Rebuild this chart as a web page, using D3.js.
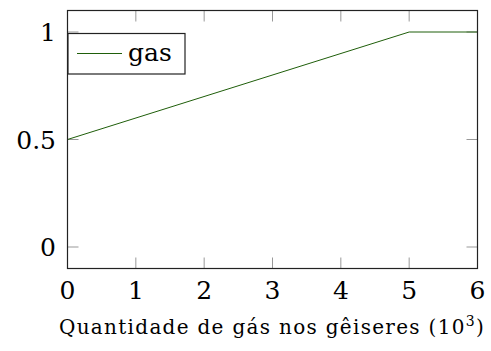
<!DOCTYPE html>
<html>
<head>
<meta charset="utf-8">
<script src="https://cdn.jsdelivr.net/npm/d3@7"></script>
<style>
  body { margin: 0; background: #fff; }
</style>
</head>
<body>
<script>
// data
const xValues = [0, 5, 6];
const gasValues = [0.5, 1, 1];
const xTicks = [0, 1, 2, 3, 4, 5, 6];
const yTicks = [0, 0.5, 1];
const seriesName = "gas";

const width = 491, height = 351;
const plotLeft = 67.5, plotRight = 477.5, plotTop = 10.5, plotBottom = 268.5;

const svg = d3.select("body")
  .append("svg")
  .attr("width", width)
  .attr("height", height)
  .attr("font-family", "'DejaVu Serif', 'Liberation Serif', serif");

const x = d3.scaleLinear().domain([0, 6]).range([plotLeft, plotRight]);
const y = d3.scaleLinear().domain([-0.1, 1.1]).range([plotBottom, plotTop]);

// Ticks (inside, grey)
svg.append("g")
  .selectAll("line")
  .data(xTicks.slice(1, -1))
  .join("line")
  .attr("x1", d => x(d)).attr("x2", d => x(d))
  .attr("y1", plotBottom).attr("y2", plotBottom - 11)
  .attr("stroke", "#999").attr("stroke-width", 1);
svg.append("g")
  .selectAll("line")
  .data(xTicks.slice(1, -1))
  .join("line")
  .attr("x1", d => x(d)).attr("x2", d => x(d))
  .attr("y1", plotTop).attr("y2", plotTop + 11)
  .attr("stroke", "#999").attr("stroke-width", 1);
svg.append("g")
  .selectAll("line")
  .data(yTicks)
  .join("line")
  .attr("x1", plotLeft).attr("x2", plotLeft + 11)
  .attr("y1", d => y(d)).attr("y2", d => y(d))
  .attr("stroke", "#999").attr("stroke-width", 1);
svg.append("g")
  .selectAll("line")
  .data(yTicks)
  .join("line")
  .attr("x1", plotRight).attr("x2", plotRight - 11)
  .attr("y1", d => y(d)).attr("y2", d => y(d))
  .attr("stroke", "#999").attr("stroke-width", 1);

// Line
const line = d3.line()
  .x(d => x(d[0]))
  .y(d => y(d[1]));

svg.append("path")
  .datum(xValues.map((v, i) => [v, gasValues[i]]))
  .attr("d", line)
  .attr("fill", "none")
  .attr("stroke", "#1f5e0a")
  .attr("stroke-width", 1);

// Box
svg.append("rect")
  .attr("x", plotLeft).attr("y", plotTop)
  .attr("width", plotRight - plotLeft).attr("height", plotBottom - plotTop)
  .attr("fill", "none")
  .attr("stroke", "#222").attr("stroke-width", 1.2);

// Tick labels
svg.append("g")
  .selectAll("text")
  .data(xTicks)
  .join("text")
  .attr("x", d => x(d))
  .attr("y", 299)
  .attr("text-anchor", "middle")
  .attr("font-size", 25)
  .text(d => d);

svg.append("g")
  .selectAll("text")
  .data(yTicks)
  .join("text")
  .attr("x", 56)
  .attr("y", d => y(d))
  .attr("dy", "0.36em")
  .attr("text-anchor", "end")
  .attr("font-size", 25)
  .text(d => d);

// Axis label
const label = svg.append("text")
  .attr("x", 272)
  .attr("y", 334)
  .attr("text-anchor", "middle")
  .attr("font-size", 20)
  .attr("letter-spacing", 1.3)
  .text("Quantidade de gás nos gêiseres (10");
label.append("tspan")
  .attr("font-size", 14)
  .attr("dy", -8)
  .text("3");
label.append("tspan")
  .attr("dy", 8)
  .text(")");

// Legend
const legend = svg.append("g");
legend.append("rect")
  .attr("x", 68).attr("y", 33.5)
  .attr("width", 117).attr("height", 40.5)
  .attr("fill", "#fff")
  .attr("stroke", "#222").attr("stroke-width", 1.2);
legend.append("line")
  .attr("x1", 77).attr("x2", 122)
  .attr("y1", 53.5).attr("y2", 53.5)
  .attr("stroke", "#1f5e0a").attr("stroke-width", 1);
legend.append("text")
  .attr("x", 128)
  .attr("y", 61)
  .attr("font-size", 25)
  .text(seriesName);
</script>
</body>
</html>
